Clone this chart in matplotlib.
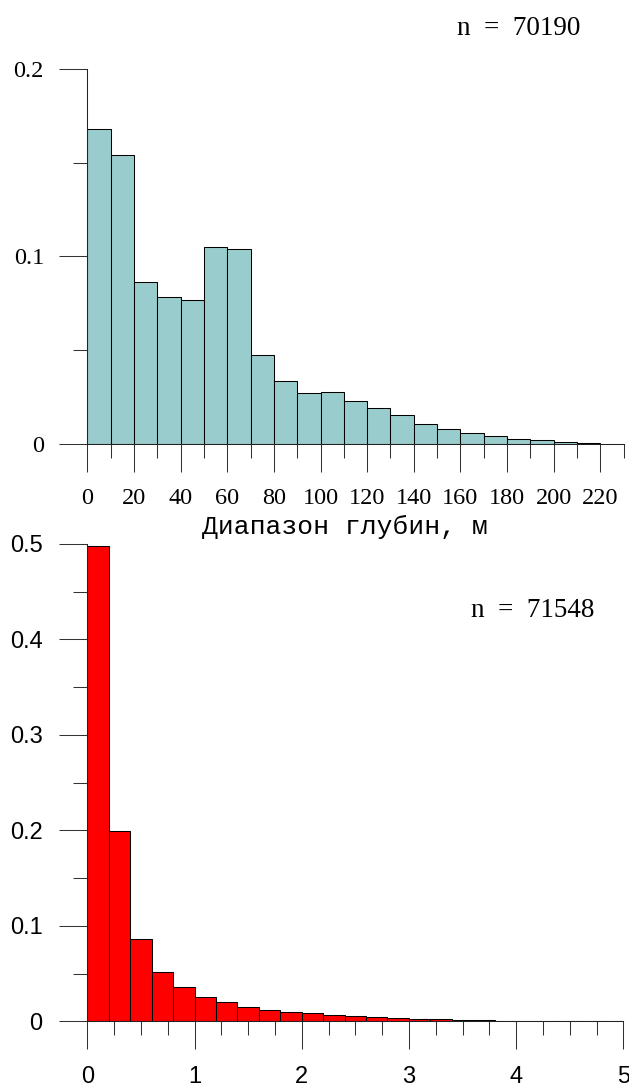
import matplotlib
matplotlib.use("Agg")
import matplotlib.pyplot as plt
from matplotlib.ticker import FixedLocator

# ---- data ----
depth_bins = [0, 10, 20, 30, 40, 50, 60, 70, 80, 90, 100, 110, 120, 130, 140,
              150, 160, 170, 180, 190, 200, 210]
depth_freq = [0.168, 0.154, 0.0866, 0.0786, 0.0766, 0.1051, 0.1040, 0.0475,
              0.0337, 0.0271, 0.0278, 0.0230, 0.0190, 0.0151, 0.0103, 0.0078,
              0.0055, 0.0039, 0.0027, 0.0018, 0.0009, 0.0002]
depth_width = 10
depth_n = "n  =  70190"
depth_xticks = [0, 20, 40, 60, 80, 100, 120, 140, 160, 180, 200, 220]
depth_xminor = [10, 30, 50, 70, 90, 110, 130, 150, 170, 190, 210, 230]
depth_yticks = [0, 0.1, 0.2]
depth_ylabels = ["0", "0.1", "0.2"]
depth_yminor = [0.05, 0.15]
depth_xlabel = "Диапазон глубин, м"

val_bins = [0.0, 0.2, 0.4, 0.6, 0.8, 1.0, 1.2, 1.4, 1.6, 1.8, 2.0, 2.2, 2.4,
            2.6, 2.8, 3.0, 3.2, 3.4, 3.6, 3.8, 4.0, 4.2, 4.4, 4.6, 4.8]
val_freq = [0.4982, 0.1994, 0.0866, 0.0513, 0.0356, 0.0251, 0.0199, 0.0155,
            0.0122, 0.0101, 0.0082, 0.0070, 0.0058, 0.0047, 0.0037, 0.0027,
            0.0020, 0.0015, 0.0011, 0.0008, 0.0007, 0.0005, 0.0004, 0.0003,
            0.0002]
val_width = 0.2
val_n = "n  =  71548"
val_xticks = [0, 1, 2, 3, 4, 5]
val_xminor = [0.25, 0.5, 0.75, 1.25, 1.5, 1.75, 2.25, 2.5, 2.75, 3.25, 3.5,
              3.75, 4.25, 4.5, 4.75]
val_yticks = [0, 0.1, 0.2, 0.3, 0.4, 0.5]
val_ylabels = ["0", "0.1", "0.2", "0.3", "0.4", "0.5"]
val_yminor = [0.05, 0.15, 0.25, 0.35, 0.45]

W, H = 629, 1088
DPI = 100
fig = plt.figure(figsize=(W / DPI, H / DPI), dpi=DPI)


def px_rect(l, t, r, b):
    return [l / W, 1 - b / H, (r - l) / W, (b - t) / H]


SERIF = "Liberation Serif"
SANS = "Liberation Sans"
MONO = "Liberation Mono"
LW = 0.75
MAJ = 20.2
MIN = 10.1


def style(ax, family, size, xpad, ypad):
    for s in ("top", "right"):
        ax.spines[s].set_visible(False)
    for s in ("left", "bottom"):
        ax.spines[s].set_linewidth(LW)
        ax.spines[s].set_color("#222222")
    ax.tick_params(which="major", direction="out", length=MAJ, width=LW,
                   color="#333333", labelsize=size)
    ax.tick_params(which="minor", direction="out", length=MIN, width=LW,
                   color="#333333")
    ax.tick_params(axis="x", which="major", pad=xpad)
    ax.tick_params(axis="y", which="major", pad=ypad)
    for lab in ax.get_xticklabels() + ax.get_yticklabels():
        lab.set_family(family)


# ---- top chart ----
ax1 = fig.add_axes(px_rect(87.3, 69.3, 623.7, 443.7))
ax1.bar(depth_bins, depth_freq, width=depth_width, align="edge",
        color="#99CCCC", edgecolor="black", linewidth=LW, zorder=2)
ax1.set_xlim(0, 230)
ax1.set_ylim(0, 0.2)
ax1.set_xticks(depth_xticks)
ax1.set_xticklabels([str(v) for v in depth_xticks])
ax1.xaxis.set_minor_locator(FixedLocator(depth_xminor))
ax1.set_yticks(depth_yticks)
ax1.set_yticklabels(depth_ylabels)
ax1.yaxis.set_minor_locator(FixedLocator(depth_yminor))
style(ax1, SERIF, 17.5, 11.5, 11.0)

fig.text(345 / W, 1 - 527 / H, depth_xlabel, family=MONO, fontsize=19,
         ha="center", va="center")
fig.text(457 / W, 1 - 35 / H, depth_n, family=SERIF, fontsize=19.5,
         ha="left", va="baseline")

# ---- bottom chart ----
ax2 = fig.add_axes(px_rect(87.3, 544.0, 623.3, 1021.3))
ax2.bar(val_bins, val_freq, width=val_width, align="edge",
        color="#FF0000", edgecolor="black", linewidth=LW, zorder=2)
ax2.set_xlim(0, 5)
ax2.set_ylim(0, 0.5)
ax2.set_xticks(val_xticks)
ax2.set_xticklabels([str(v) for v in val_xticks])
ax2.xaxis.set_minor_locator(FixedLocator(val_xminor))
ax2.set_yticks(val_yticks)
ax2.set_yticklabels(val_ylabels)
ax2.yaxis.set_minor_locator(FixedLocator(val_yminor))
style(ax2, SANS, 17, 12.0, 12.0)

fig.text(471 / W, 1 - 617 / H, val_n, family=SERIF, fontsize=19.5,
         ha="left", va="baseline")

for ax in (ax1, ax2):
    ax.set_facecolor("none")
    for sp in ax.spines.values():
        sp.set_zorder(3)

fig.savefig("out.png", dpi=DPI, facecolor="white")
